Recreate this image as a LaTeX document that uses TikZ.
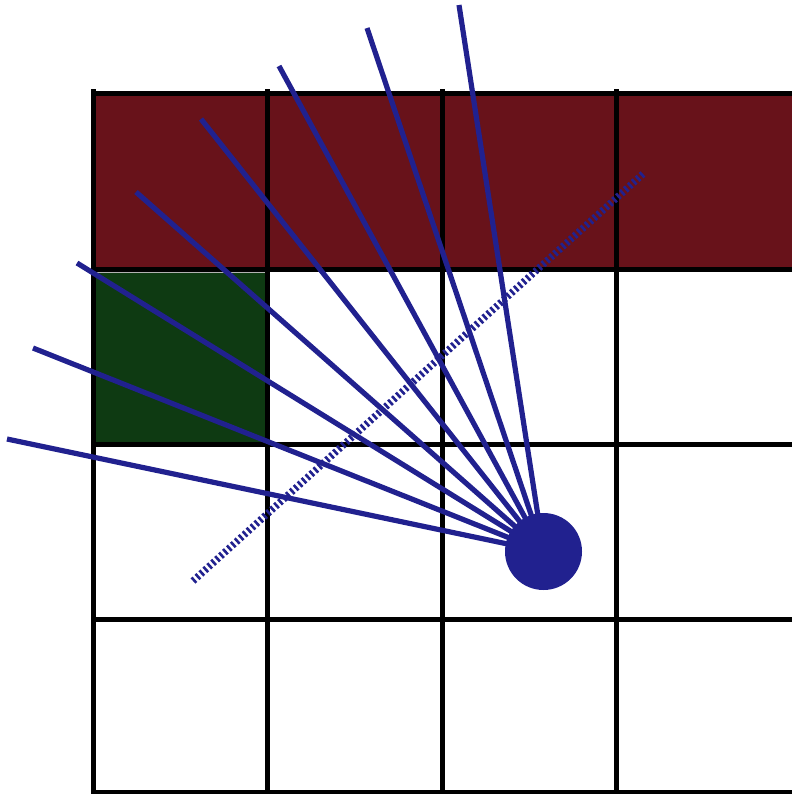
\documentclass[tikz,border=0pt]{standalone}
\usepackage{tikz}
\usetikzlibrary{positioning}
\definecolor{wallred}{HTML}{68121A}
\definecolor{goalgreen}{HTML}{0E3A12}
\definecolor{raynavy}{HTML}{21218F}
\begin{document}
\begin{tikzpicture}[x=0.5pt,y=-0.5pt,
  gridline/.style={line width=2.5pt,black},
  ray/.style={line width=2.6pt,raynavy},
  hatchline/.style={line width=3.6pt,raynavy,dash pattern=on 1.3pt off 1.35pt}]
  \useasboundingbox (0,0) rectangle (792,794);
  % cells
  \fill[wallred] (93,93) rectangle (792,269);
  \fill[goalgreen,draw=gray!60,line width=0.4pt] (95.5,272) rectangle (265,442);
  % grid
  \foreach \x in {93,267.5,442,616.5}
    \draw[gridline] (\x,89) -- (\x,794);
  \foreach \y in {93,269,444,619,792.5}
    \draw[gridline] (93,\y) -- (792,\y);
  % rays
  \coordinate (src) at (543.5,551.5);
  \foreach \p [count=\i] in {(459,5),(367,28),(279,66),(201,119),
                  (136,192),(77,263),(33,348),(7,439)}
    \draw[ray] (src) -- \p coordinate (r\i);
  % hatched line
  \coordinate (h1) at (193,581);
  \coordinate (h2) at (644,173);
  \draw[hatchline] (h1) -- (h2);
  % agent
  \node[circle,fill=raynavy,minimum size=38.5pt,inner sep=0pt] (agent) at (src) {};
\end{tikzpicture}
\end{document}
